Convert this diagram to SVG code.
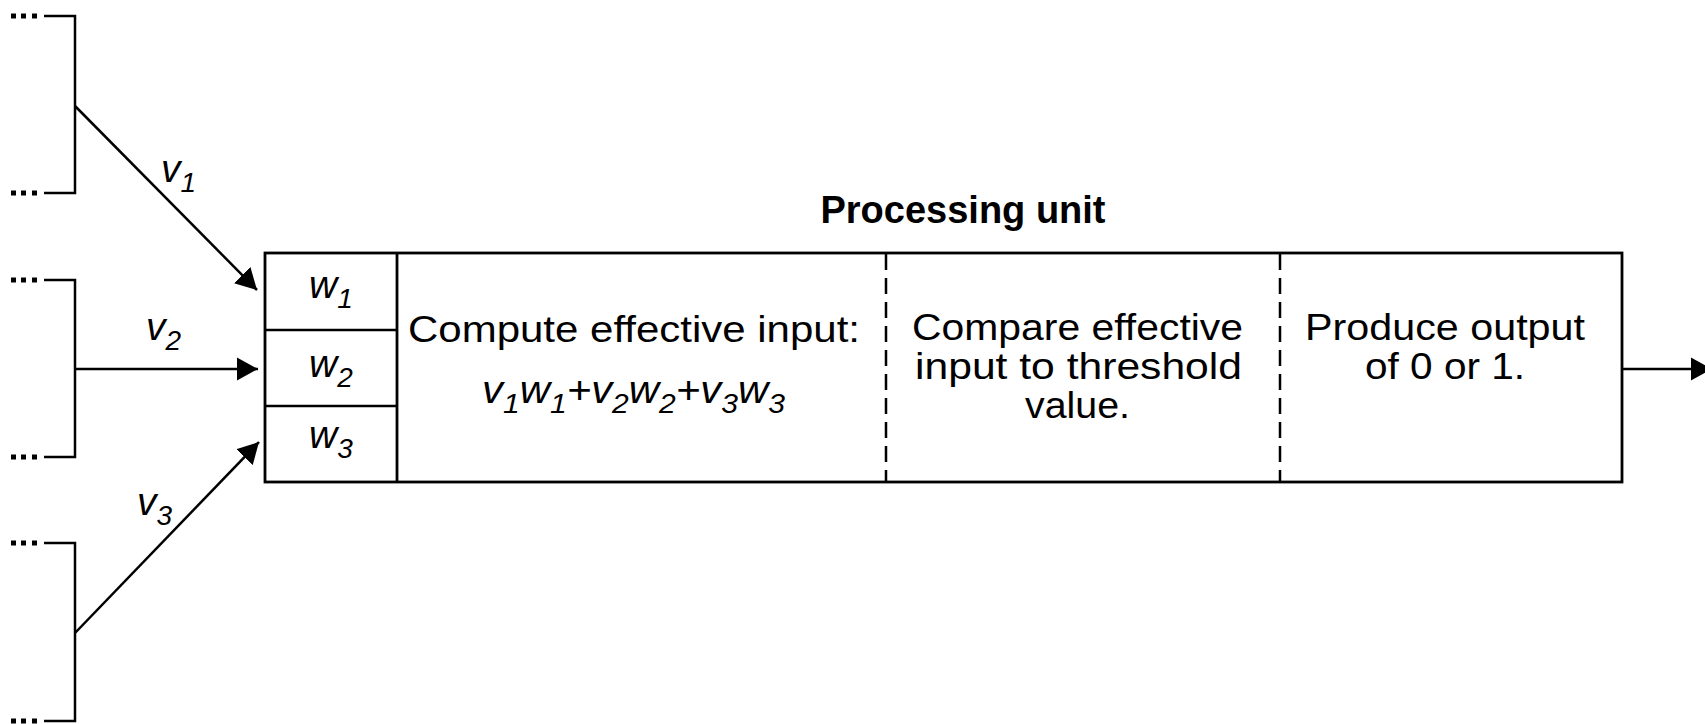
<svg xmlns="http://www.w3.org/2000/svg" width="1705" height="724" viewBox="0 0 1705 724">
<style>
  .ln{stroke:#000;stroke-width:2.5;fill:none}
  .box{stroke:#000;stroke-width:2.8;fill:#fff}
  .dash{stroke:#000;stroke-width:2.5;stroke-dasharray:16 8;fill:none}
  .t{font-family:"Liberation Sans",Arial,sans-serif;fill:#000}
  .it{font-family:"Liberation Sans",Arial,sans-serif;font-style:italic;fill:#000;font-size:39px}
  .sub{font-size:28px}
  .body{font-size:37px}
  .title{font-size:38px;font-weight:bold}
</style>
<defs>
  <marker id="ah" markerUnits="userSpaceOnUse" markerWidth="22" markerHeight="24" refX="21" refY="12" orient="auto" viewBox="0 0 22 24">
    <path d="M0,0.5 L21,12 L0,23.5 z" fill="#000"/>
  </marker>
  <g id="dots">
    <rect x="11" y="-2.5" width="5" height="5"/>
    <rect x="21" y="-2.5" width="5" height="5"/>
    <rect x="32" y="-2.5" width="5" height="5"/>
  </g>
</defs>

<g id="input1">
  <use href="#dots" y="16"/>
  <use href="#dots" y="193"/>
  <path class="ln" d="M44,16 H75 V193 H44"/>
</g>
<g id="input2">
  <use href="#dots" y="280"/>
  <use href="#dots" y="457"/>
  <path class="ln" d="M44,280 H75 V457 H44"/>
</g>
<g id="input3">
  <use href="#dots" y="543"/>
  <use href="#dots" y="721"/>
  <path class="ln" d="M44,543 H75 V721 H44"/>
</g>

<g id="processing-unit">
  <text class="t title" x="963" y="223" text-anchor="middle">Processing unit</text>
  <rect class="box" x="265" y="253" width="1357" height="229"/>
  <line class="ln" x1="397" y1="253" x2="397" y2="482" style="stroke-width:2.8"/>
  <line class="ln" x1="265" y1="330" x2="397" y2="330"/>
  <line class="ln" x1="265" y1="406" x2="397" y2="406"/>
  <line class="dash" x1="886" y1="254" x2="886" y2="481"/>
  <line class="dash" x1="1280" y1="254" x2="1280" y2="481"/>
</g>

<g id="weights">
  <text class="it" x="309" y="298">w<tspan class="sub" dy="10">1</tspan></text>
  <text class="it" x="309" y="377">w<tspan class="sub" dy="10">2</tspan></text>
  <text class="it" x="309" y="448">w<tspan class="sub" dy="10">3</tspan></text>
</g>

<g id="compute">
  <text class="t body" x="408" y="342" textLength="452" lengthAdjust="spacingAndGlyphs">Compute effective input:</text>
  <text class="it" x="482" y="403" textLength="303" lengthAdjust="spacingAndGlyphs">v<tspan class="sub" dy="10">1</tspan><tspan dy="-10">w</tspan><tspan class="sub" dy="10">1</tspan><tspan dy="-10">+v</tspan><tspan class="sub" dy="10">2</tspan><tspan dy="-10">w</tspan><tspan class="sub" dy="10">2</tspan><tspan dy="-10">+v</tspan><tspan class="sub" dy="10">3</tspan><tspan dy="-10">w</tspan><tspan class="sub" dy="10">3</tspan></text>
</g>

<g id="compare">
  <text class="t body" x="912" y="340" textLength="331" lengthAdjust="spacingAndGlyphs">Compare effective</text>
  <text class="t body" x="915" y="379" textLength="327" lengthAdjust="spacingAndGlyphs">input to threshold</text>
  <text class="t body" x="1025" y="418" textLength="105" lengthAdjust="spacingAndGlyphs">value.</text>
</g>

<g id="produce">
  <text class="t body" x="1305" y="340" textLength="280" lengthAdjust="spacingAndGlyphs">Produce output</text>
  <text class="t body" x="1365" y="379" textLength="160" lengthAdjust="spacingAndGlyphs">of 0 or 1.</text>
</g>

<g id="connectors">
  <line class="ln" x1="75" y1="106" x2="257" y2="290" marker-end="url(#ah)"/>
  <line class="ln" x1="75" y1="369" x2="258" y2="369" marker-end="url(#ah)"/>
  <line class="ln" x1="75" y1="633" x2="259" y2="442" marker-end="url(#ah)"/>
  <line class="ln" x1="1622" y1="369" x2="1712" y2="369" marker-end="url(#ah)"/>
  <text class="it" x="161" y="182">v<tspan class="sub" dy="10">1</tspan></text>
  <text class="it" x="146" y="340">v<tspan class="sub" dy="10">2</tspan></text>
  <text class="it" x="137" y="515">v<tspan class="sub" dy="10">3</tspan></text>
</g>
</svg>
